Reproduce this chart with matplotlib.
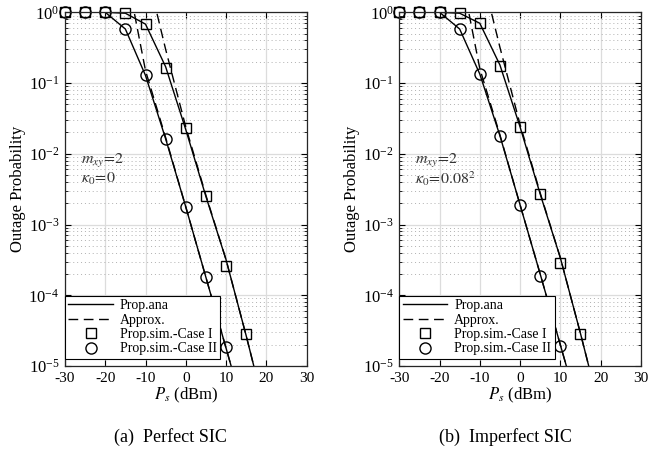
import numpy as np
import matplotlib
matplotlib.use("Agg")
import matplotlib.pyplot as plt
from matplotlib.ticker import LogLocator, NullFormatter, MultipleLocator

plt.rcParams['font.family'] = ['Liberation Serif', 'DejaVu Serif']
plt.rcParams['mathtext.fontset'] = 'stix'
plt.rcParams['axes.unicode_minus'] = False

# x grid (dBm)
x_ana = [-30, -25, -20, -15, -10, -5, 0, 5, 10, 15, 20]
x_sim1 = [-30, -25, -20, -15, -10, -5, 0, 5, 10, 15]
x_sim2 = [-30, -25, -20, -15, -10, -5, 0, 5, 10]
x_apx1 = [-10, -5, 0, 5, 10, 15, 20]
x_apx2 = [-15, -10, -5, 0, 5, 10, 15]

# (a) Perfect SIC
ana1_a = [1, 1, 1, 0.97, 0.68, 0.17, 0.022, 0.0025, 3.2e-4, 2.7e-5, 2.0e-6]
ana2_a = [1, 1, 1, 0.58, 0.128, 0.0163, 0.00178, 1.8e-4, 1.8e-5, 1.8e-6, 1.8e-7]
apx1_a = [4.5, 0.30, 0.024, 0.0026, 3.2e-4, 2.7e-5, 2.0e-6]
apx2_a = [4.4, 0.15, 0.017, 0.00178, 1.8e-4, 1.8e-5, 1.8e-6]
sim1_a = [1, 1, 1, 0.99, 0.68, 0.165, 0.023, 0.00255, 2.6e-4, 2.8e-5]
sim2_a = [1, 1, 1, 0.58, 0.128, 0.0163, 0.00178, 1.8e-4, 1.86e-5]

# (b) Imperfect SIC
ana1_b = [1, 1, 1, 0.97, 0.70, 0.18, 0.024, 0.0027, 3.4e-4, 2.9e-5, 2.2e-6]
ana2_b = [1, 1, 1, 0.58, 0.134, 0.018, 0.0019, 2.0e-4, 2.0e-5, 2.0e-6, 2.0e-7]
apx1_b = [4.6, 0.32, 0.026, 0.0028, 3.4e-4, 2.9e-5, 2.2e-6]
apx2_b = [4.5, 0.16, 0.0185, 0.0019, 2.0e-4, 2.0e-5, 2.0e-6]
sim1_b = [1, 1, 1, 0.99, 0.70, 0.176, 0.024, 0.0027, 2.9e-4, 2.8e-5]
sim2_b = [1, 1, 1, 0.58, 0.134, 0.0178, 0.0019, 1.9e-4, 1.9e-5]

panels = [
    dict(ana1=ana1_a, ana2=ana2_a, apx1=apx1_a, apx2=apx2_a, sim1=sim1_a, sim2=sim2_a,
         kappa=r'$\kappa_0\!=\!0$', caption='(a)  Perfect SIC'),
    dict(ana1=ana1_b, ana2=ana2_b, apx1=apx1_b, apx2=apx2_b, sim1=sim1_b, sim2=sim2_b,
         kappa=r'$\kappa_0\!=\!0.08^2$', caption='(b)  Imperfect SIC'),
]

fig = plt.figure(figsize=(6.6, 4.55), dpi=100)
W, H = 660, 455
lefts = [65, 399.3]
axw = 241.5
top, bottom = 12.3, 366

for i, p in enumerate(panels):
    ax = fig.add_axes([lefts[i] / W, (H - bottom) / H, axw / W, (bottom - top) / H])
    ax.set_yscale('log')

    la, = ax.plot(x_ana, p['ana1'], '-', color='k', lw=1.0, label='Prop.ana')
    ax.plot(x_ana, p['ana2'], '-', color='k', lw=1.0)
    ld, = ax.plot(x_apx1, p['apx1'], '--', color='k', lw=1.0, dashes=(7, 4), label='Approx.')
    ax.plot(x_apx2, p['apx2'], '--', color='k', lw=1.0, dashes=(7, 4))
    ls, = ax.plot(x_sim1, p['sim1'], 's', ms=6.5, mfc='none', mec='k', mew=1.0,
                  clip_on=False, label='Prop.sim.-Case I')
    lc, = ax.plot(x_sim2, p['sim2'], 'o', ms=8, mfc='none', mec='k', mew=1.0,
                  clip_on=False, label='Prop.sim.-Case II')

    ax.set_xlim(-30, 30)
    ax.set_ylim(1e-5, 1)
    ax.xaxis.set_major_locator(MultipleLocator(10))
    ax.yaxis.set_major_locator(LogLocator(base=10, numticks=10))
    ax.yaxis.set_minor_locator(LogLocator(base=10, subs=np.arange(2, 10), numticks=20))
    ax.yaxis.set_minor_formatter(NullFormatter())

    ax.grid(True, which='major', color='#dcdcdc', lw=0.9, ls='-')
    ax.grid(True, which='minor', axis='y', color='#b0b0b0', lw=0.7, ls=(0, (1, 3)))
    ax.set_axisbelow(True)

    ax.tick_params(which='both', direction='in', top=True, right=True)
    ax.tick_params(axis='x', labelsize=11)
    ax.tick_params(axis='y', labelsize=12)
    ax.tick_params(which='major', length=4, width=0.8, pad=4)
    ax.tick_params(which='minor', length=2.5, width=0.6)
    for s in ax.spines.values():
        s.set_linewidth(0.9)
        s.set_color('#262626')

    ax.set_xlabel(r'$P_s$ (dBm)', fontsize=12, labelpad=1)
    ax.set_ylabel('Outage Probability', fontsize=12, labelpad=2)

    ax.text(-26, 8e-3, r'$m_{xy}\!=\!2$', fontsize=11.5, color='#333333', va='center')
    ax.text(-26, 4.4e-3, p['kappa'], fontsize=11.5, color='#333333', va='center')

    leg = ax.legend(handles=[la, ld, ls, lc], loc='lower left', bbox_to_anchor=(0, 0.02),
                    borderaxespad=0, fontsize=10, frameon=True, fancybox=False,
                    edgecolor='k', framealpha=1, handlelength=3.2, handletextpad=0.5,
                    labelspacing=0.1, borderpad=0.25)
    leg.get_frame().set_linewidth(0.8)

    cx = (lefts[i] + axw / 2 - 15) / W
    fig.text(cx, 1 - 437 / H, p['caption'], fontsize=13, ha='center', va='center')

fig.savefig('out.png', dpi=100)
